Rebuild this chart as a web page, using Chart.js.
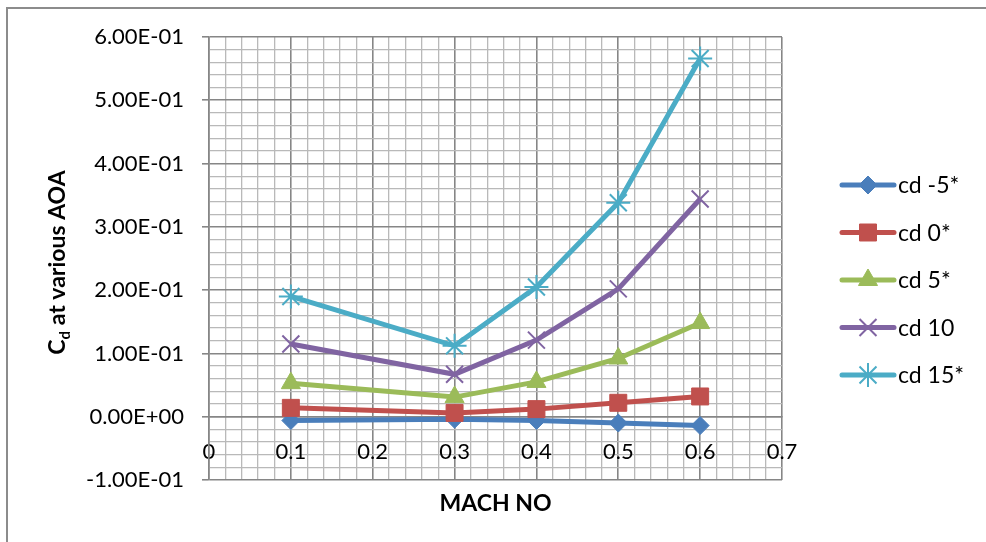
<!DOCTYPE html>
<html>
<head>
<meta charset="utf-8">
<script src="https://cdn.jsdelivr.net/npm/chart.js@4.4.1/dist/chart.umd.min.js"></script>
<style>
  html, body { margin: 0; padding: 0; background: #fff; }
  #wrap { width: 986px; height: 542px; position: relative; }
</style>
</head>
<body>
<div id="wrap"><canvas id="chart" width="986" height="542"></canvas></div>
<script>
// values
const machNo = [0.1, 0.3, 0.4, 0.5, 0.6];
const cdMinus5 = [-0.006, -0.004, -0.006, -0.010, -0.014];
const cd0 = [0.014, 0.006, 0.012, 0.022, 0.032];
const cd5 = [0.053, 0.031, 0.055, 0.092, 0.148];
const cd10 = [0.115, 0.067, 0.121, 0.202, 0.344];
const cd15 = [0.190, 0.112, 0.205, 0.338, 0.566];
const seriesNames = ['cd -5*', 'cd 0*', 'cd 5*', 'cd 10', 'cd 15*'];
const xTickLabels = ['0', '0.1', '0.2', '0.3', '0.4', '0.5', '0.6', '0.7'];
const yTickLabels = ['-1.00E-01', '0.00E+00', '1.00E-01', '2.00E-01', '3.00E-01', '4.00E-01', '5.00E-01', '6.00E-01'];

const FONT = 'Lato, "Open Sans", sans-serif';
const MAJOR = '#868686';
const MINOR = '#b9b9b9';

const styles = [
  { color: '#4a7ebb', point: 'rectRot', radius: 9, bw: 1 },
  { color: '#c0504d', point: 'rect', radius: 12, bw: 1 },
  { color: '#9bbb59', point: 'triangle', radius: 11, bw: 1 },
  { color: '#8064a2', point: 'crossRot', radius: 12, bw: 2 },
  { color: '#4bacc6', point: 'star', radius: 12, bw: 2 }
];
const allSeries = [cdMinus5, cd0, cd5, cd10, cd15];

const datasets = allSeries.map((vals, i) => ({
  label: seriesNames[i],
  data: vals.map((v, k) => ({ x: machNo[k], y: v })),
  borderColor: styles[i].color,
  backgroundColor: styles[i].color,
  borderWidth: 5,
  pointStyle: styles[i].point,
  pointRadius: styles[i].radius,
  pointBorderWidth: styles[i].bw,
  pointBackgroundColor: styles[i].color,
  pointBorderColor: styles[i].color,
  tension: 0,
  order: -i
}));

function stepTicks(min, count) {
  const t = [];
  for (let i = 0; i <= count; i++) t.push({ value: Math.round((min + i * 0.02) * 1000) / 1000 });
  return t;
}

const decorations = {
  id: 'decorations',
  afterDraw(chart) {
    const { ctx, chartArea } = chart;
    ctx.save();
    // outer frame (left and top only, like the cropped reference)
    ctx.strokeStyle = '#8c8c8c';
    ctx.lineWidth = 2;
    ctx.beginPath();
    ctx.moveTo(7, 542);
    ctx.lineTo(7, 8);
    ctx.lineTo(986, 8);
    ctx.stroke();

    // x title
    ctx.fillStyle = '#000';
    ctx.font = 'bold 23px ' + FONT;
    ctx.textAlign = 'center';
    ctx.textBaseline = 'middle';
    ctx.fillText('MACH NO', (chartArea.left + chartArea.right) / 2, 504);

    // y title with subscript
    ctx.translate(58, (chartArea.top + chartArea.bottom) / 2 + 4);
    ctx.rotate(-Math.PI / 2);
    ctx.textAlign = 'left';
    ctx.textBaseline = 'alphabetic';
    const big = 'bold 23px ' + FONT;
    const small = 'bold 15px ' + FONT;
    const rest = ' at various AOA';
    ctx.font = big;
    const wC = ctx.measureText('C').width;
    const wRest = ctx.measureText(rest).width;
    ctx.font = small;
    const wd = ctx.measureText('d').width;
    let x = -(wC + wd + wRest) / 2;
    const base = 7;
    ctx.font = big;
    ctx.fillText('C', x, base);
    x += wC;
    ctx.font = small;
    ctx.fillText('d', x, base + 5);
    x += wd;
    ctx.font = big;
    ctx.fillText(rest, x, base);
    ctx.restore();

    // legend
    ctx.save();
    chart.data.datasets.forEach((ds, i) => {
      const y = 185 + i * 47.5;
      ctx.strokeStyle = ds.borderColor;
      ctx.lineWidth = 5;
      ctx.lineCap = 'round';
      ctx.beginPath();
      ctx.moveTo(842, y);
      ctx.lineTo(894, y);
      ctx.stroke();
      ctx.lineCap = 'butt';
      ctx.fillStyle = ds.pointBackgroundColor;
      ctx.strokeStyle = ds.pointBorderColor;
      ctx.lineWidth = ds.pointBorderWidth;
      Chart.helpers.drawPoint(ctx, {
        pointStyle: ds.pointStyle,
        radius: ds.pointRadius,
        borderWidth: ds.pointBorderWidth,
        rotation: 0
      }, 868, y);
      ctx.fillStyle = '#000';
      ctx.font = '23px ' + FONT;
      ctx.textAlign = 'left';
      ctx.textBaseline = 'middle';
      ctx.fillText(ds.label, 898, y + 1);
    });
    ctx.restore();
  }
};

new Chart(document.getElementById('chart'), {
  type: 'line',
  data: { datasets },
  options: {
    responsive: false,
    animation: false,
    devicePixelRatio: 1,
    layout: { padding: { top: 37, right: 204, bottom: 62, left: 0 } },
    plugins: { legend: { display: false }, tooltip: { enabled: false } },
    scales: {
      x: {
        type: 'linear',
        min: 0,
        max: 0.7,
        position: { y: 0 },
        afterBuildTicks: scale => { scale.ticks = stepTicks(0, 35); },
        ticks: {
          autoSkip: false,
          maxRotation: 0,
          padding: 22,
          color: '#000',
          font: { family: FONT, size: 22 },
          callback: (v, i) => (i % 5 === 0 ? xTickLabels[i / 5] : '')
        },
        grid: {
          color: c => (c.index % 5 === 0 ? MAJOR : MINOR),
          lineWidth: c => (c.index % 5 === 0 ? 1.6 : 1.3),
          tickLength: 0
        },
        border: { color: MAJOR, width: 1.6 }
      },
      y: {
        type: 'linear',
        min: -0.1,
        max: 0.6,
        afterBuildTicks: scale => { scale.ticks = stepTicks(-0.1, 35); },
        afterFit: scale => { scale.width = 209; },
        ticks: {
          autoSkip: false,
          padding: 18,
          color: '#000',
          font: { family: FONT, size: 22 },
          callback: (v, i) => (i % 5 === 0 ? yTickLabels[i / 5] : '')
        },
        grid: {
          color: c => (c.index % 5 === 0 ? MAJOR : MINOR),
          lineWidth: c => (c.index % 5 === 0 ? 1.6 : 1.3),
          tickColor: c => (c.index % 5 === 0 ? MAJOR : 'rgba(0,0,0,0)'),
          tickLength: 7
        },
        border: { color: MAJOR, width: 1.6 }
      }
    }
  },
  plugins: [decorations]
});
</script>
</body>
</html>
